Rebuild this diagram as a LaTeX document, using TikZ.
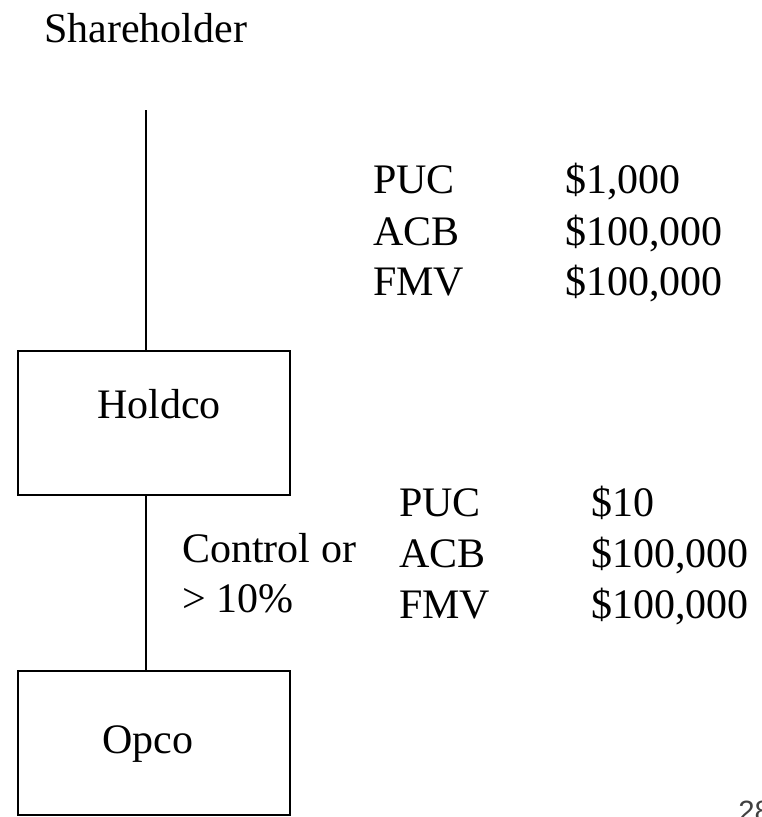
\documentclass[tikz,border=0pt]{standalone}
\usepackage{fontspec}
\setmainfont{Liberation Serif}
\newfontfamily\pagefont{Liberation Sans}
\usepackage{tikz}
\usetikzlibrary{calc}

\begin{document}
\begin{tikzpicture}[x=0.75pt,y=-0.75pt,
        every node/.style={inner sep=0pt,font=\fontsize{31.5}{36}\selectfont},
        box/.style={draw,line width=1.5pt,minimum width=204pt,minimum height=108pt},
        word/.style={anchor=base west}]
        \useasboundingbox (0,0) rectangle (761,817);
        \clip (0,0) rectangle (761,817);

        % The companies
        \node[box] (holdco) at (154,423) {};
        \node[box] (opco) at (154,743) {};
        \node[anchor=base] (holdconame) at (159,418) {Holdco};
        \node[anchor=base] (opconame) at (148,753) {Opco};

        % Shareholder and the ownership lines
        \node[word] (share) at (44,43) {Shareholder};
        \coordinate (S) at (146,110);
        \draw[line width=1.5pt] (S) -- (S |- holdco.north);
        \draw[line width=1.5pt] (holdco.south -| S) -- (opco.north -| S);
        \node[word] (ctrl) at (182,562) {Control or};
        \node[word] (pct) at (182,612) {> 10\%};

        % Shares of Holdco
        \node[word] (puc1) at (373,193) {PUC};
        \node[word] (acb1) at (373,245) {ACB};
        \node[word] (fmv1) at (373,295) {FMV};
        \node[word] (pucv1) at (565,193) {\$1,000};
        \node[word] (acbv1) at (565,245) {\$100,000};
        \node[word] (fmvv1) at (565,295) {\$100,000};

        % Shares of Opco
        \node[word] (puc2) at (399,516) {PUC};
        \node[word] (acb2) at (399,567) {ACB};
        \node[word] (fmv2) at (399,618) {FMV};
        \node[word] (pucv2) at (591,516) {\$10};
        \node[word] (acbv2) at (591,567) {\$100,000};
        \node[word] (fmvv2) at (591,618) {\$100,000};

        % Page number
        \node[word,font=\pagefont\fontsize{22}{26}\selectfont,text=black!75] (page) at (738,821) {28};
    \end{tikzpicture}
\end{document}
